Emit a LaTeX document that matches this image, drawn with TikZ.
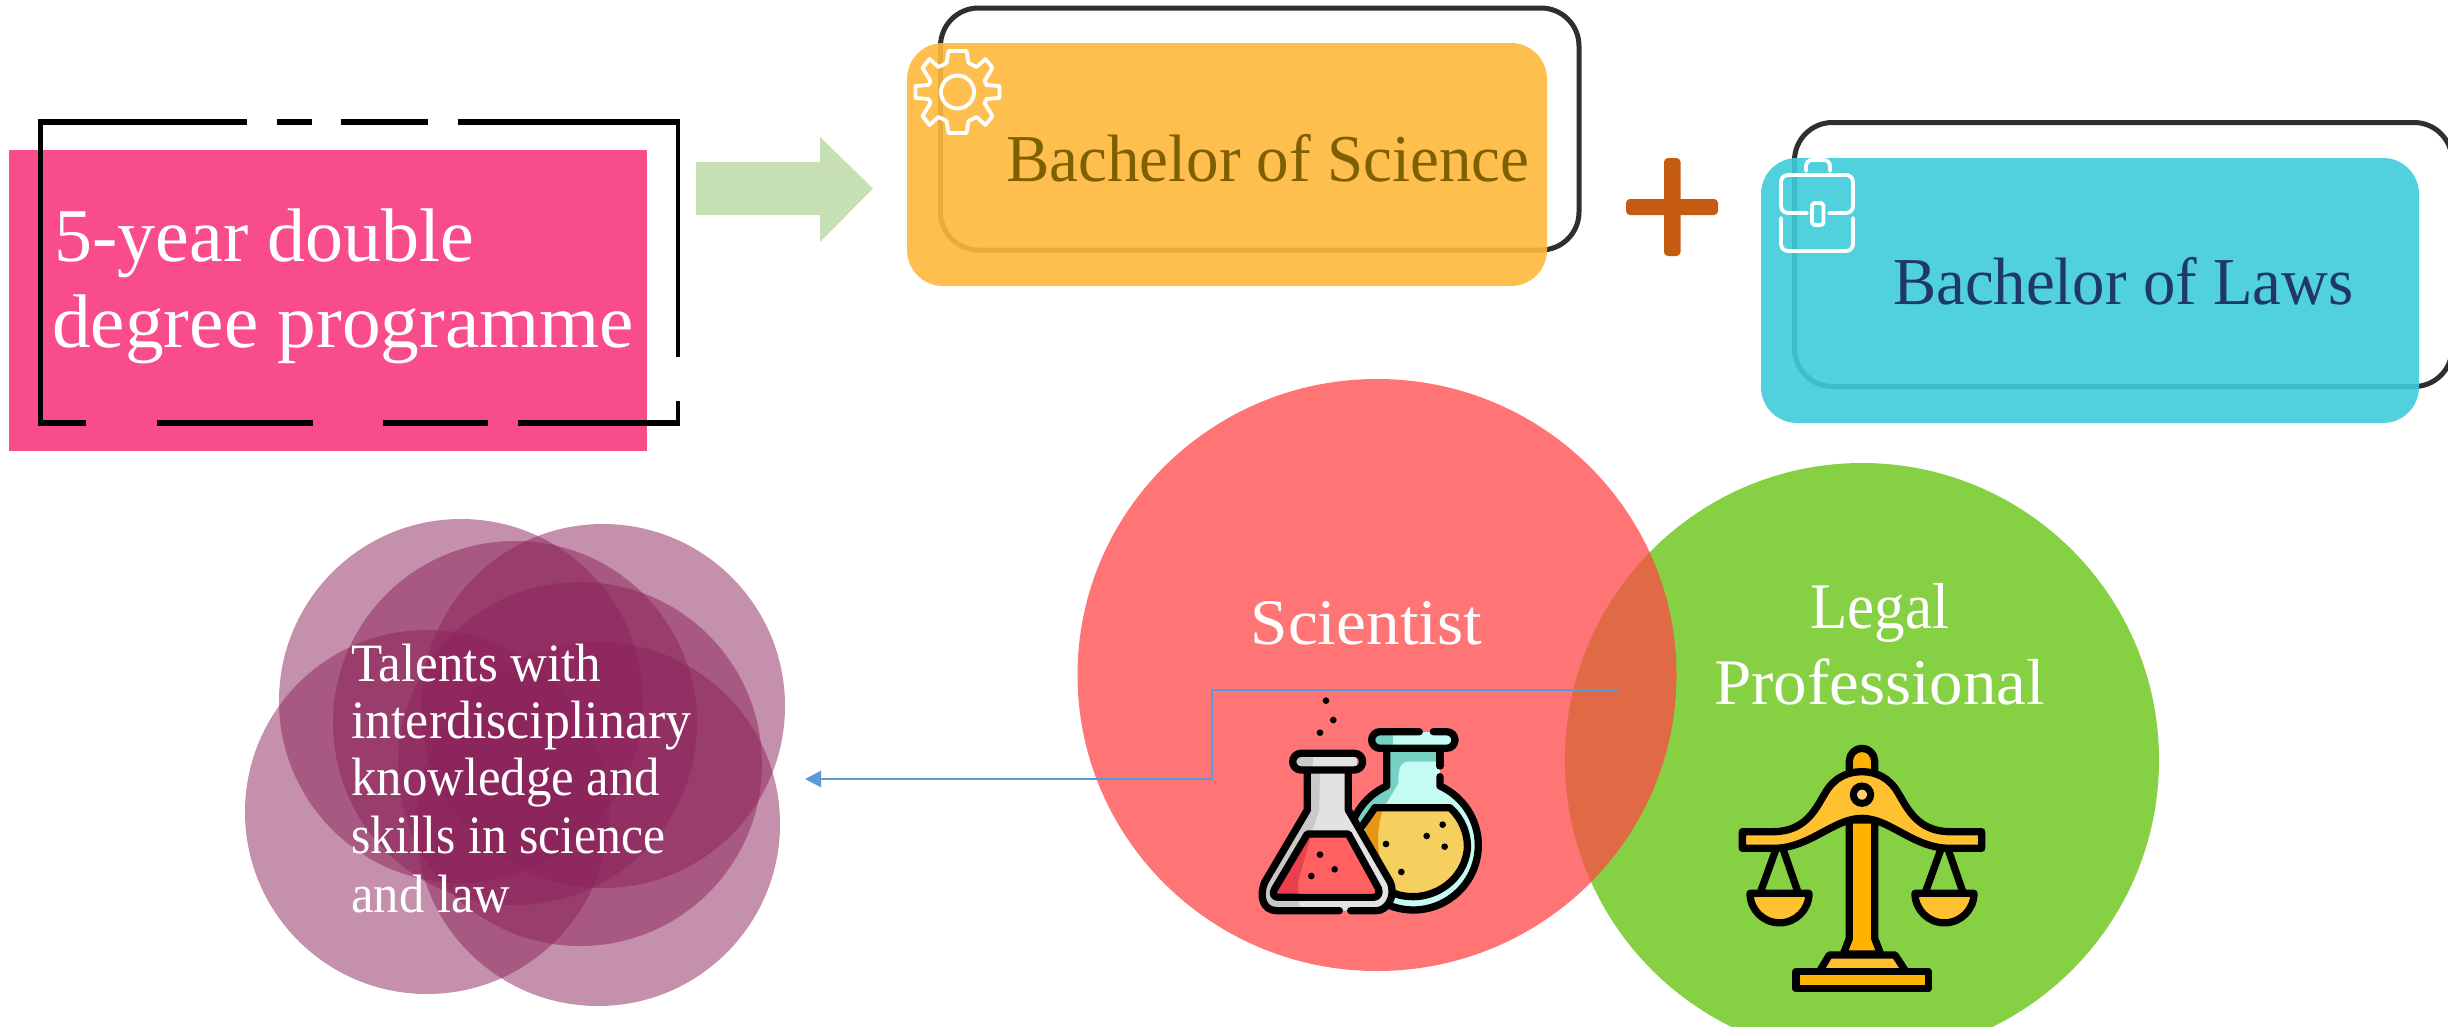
\documentclass[tikz,border=0pt]{standalone}
\usepackage{fontspec}
\usepackage{graphicx}
\setmainfont{Liberation Serif}
\usetikzlibrary{arrows.meta,shapes.geometric}
\definecolor{pinkc}{HTML}{F94C8B}
\definecolor{arrowc}{HTML}{C6E0B4}
\definecolor{orangec}{HTML}{FFB93B}
\definecolor{tealc}{HTML}{3FCCDA}
\definecolor{framec}{HTML}{2F2F2F}
\definecolor{plusc}{HTML}{C55A11}
\definecolor{sciencec}{HTML}{7F6000}
\definecolor{lawsc}{HTML}{1F3864}
\definecolor{redc}{HTML}{FF4747}
\definecolor{greenc}{HTML}{86D044}
\definecolor{purplec}{HTML}{8C235A}
\definecolor{bluec}{HTML}{5B9BD5}
\definecolor{gold}{HTML}{FFB300}
\definecolor{goldl}{HTML}{FFC12F}
\definecolor{aqua}{HTML}{C4FCF4}
\definecolor{aquad}{HTML}{76D1C3}
\definecolor{glass}{HTML}{E2E2E2}
\definecolor{glassd}{HTML}{C9C9C9}
\definecolor{liqy}{HTML}{F5D05F}
\definecolor{liqyd}{HTML}{E89514}
\definecolor{liqr}{HTML}{FF6060}
\definecolor{liqrd}{HTML}{EA3F4C}
\definecolor{eyec}{HTML}{FBD078}
\newcommand\fitw[2]{\resizebox{#1pt}{\height}{#2}}
\tikzset{
  blackdash/.style={line width=6pt,black},
  degree/.style={rectangle,rounded corners=36pt,fill opacity=.9,inner sep=0pt},
  outline/.style={draw=framec,line width=5pt,rounded corners=38pt},
  icon/.style={draw=white,line width=3.8pt,line join=round,line cap=round},
  talent/.style={fill=purplec,fill opacity=.5},
  label/.style={anchor=base west,inner sep=0pt,text=white,font=\fontsize{#1}{#1}\selectfont},
  ink/.style={draw=black,line width=7.3pt,line join=round,line cap=round},
}
\begin{document}
\begin{tikzpicture}[x=1pt,y=-1pt]
\useasboundingbox (0,0) rectangle (2448,1026);
\clip (0,0) rectangle (2448,1026);
\fill[white] (0,0) rectangle (2448,1026);
% pink box
\node[rectangle,fill=pinkc,inner sep=0pt,minimum width=638pt,minimum height=301pt] (pink) at (328,300.5) {};
\draw[blackdash,line width=5pt] (40.5,119) -- (40.5,426);
\draw[blackdash] (38,122) -- (247,122) (277,122) -- (312,122) (341,122) -- (428,122) (458,122) -- (680,122);
\draw[blackdash,line width=4pt] (678,119) -- (678,357) (678,401) -- (678,426);
\draw[blackdash] (38,423) -- (86,423) (157,423) -- (313,423) (383,423) -- (488,423) (518,423) -- (680,423);
\node[label=76] (t1) at (54,261) {\fitw{420}{5-year double}};
\node[label=76] (t2) at (52,347) {\fitw{582}{degree programme}};
% block arrow
\fill[arrowc] (696,162) -- (820,162) -- (820,137) -- (873,188.5) -- (820,242) -- (820,215) -- (696,215) -- cycle;
% Bachelor of Science
\draw[outline] (940.5,8) rectangle (1579,250);
\node[degree,fill=orangec,minimum width=640pt,minimum height=243pt] (bsc) at (1227,164.5) {};
\node[label=67,text=sciencec] (bsct) at (1006,181) {\fitw{523}{Bachelor of Science}};
\begin{scope}[shift={(957.5,92)}]
\draw[icon] (-9,-41) -- (9,-41) -- (11,-29) -- (19,-25) -- (28,-33) -- (35,-24) -- (27,-11) -- (29,-7) -- (42,-6) -- (42,6) -- (29,7) -- (27,11) -- (35,24) -- (28,33) -- (19,25) -- (11,29) -- (9,41) -- (-9,41) -- (-11,29) -- (-19,25) -- (-28,33) -- (-35,24) -- (-27,11) -- (-29,7) -- (-42,6) -- (-42,-6) -- (-29,-7) -- (-27,-11) -- (-35,-24) -- (-28,-33) -- (-19,-25) -- (-11,-29) -- cycle;
\draw[icon] (0,0) circle[radius=16.5];
\end{scope}
% plus
\fill[plusc,rounded corners=4pt] (1664,158) rectangle (1680.5,256);
\fill[plusc,rounded corners=4pt] (1626,199) rectangle (1718,215);
% Bachelor of Laws
\draw[outline] (1794.5,122.5) rectangle (2452,386.5);
\node[degree,fill=tealc,minimum width=658pt,minimum height=265pt] (llb) at (2090,290.5) {};
\node[label=67,text=lawsc] (llbt) at (1893,304) {\fitw{460}{Bachelor of Laws}};
\draw[icon,rounded corners=6pt] (1806,171) -- (1806,160) -- (1830,160) -- (1830,171);
\draw[icon,rounded corners=7pt] (1807,213) -- (1781,213) -- (1781,175) -- (1853,175) -- (1853,213) -- (1829,213);
\draw[icon,rounded corners=7pt] (1781,218) -- (1781,251) -- (1853,251) -- (1853,218);
\draw[icon,rounded corners=3pt] (1812,203) rectangle (1823.5,225);
% venn
\node[circle,fill=greenc,inner sep=0pt,minimum size=594pt] (legal) at (1862,760) {};
\node[ellipse,fill=redc,fill opacity=.75,inner sep=0pt,minimum width=599pt,minimum height=592pt] (sci) at (1377,675) {};
\node[label=65] (st) at (1250.5,644) {\fitw{231.5}{Scientist}};
\node[label=65] (lt1) at (1810,628) {\fitw{139}{Legal}};
\node[label=65] (lt2) at (1714,704) {\fitw{331}{Professional}};
% talents
\fill[talent] (461,701) circle[radius=182];
\fill[talent] (603,706) circle[radius=182];
\fill[talent] (427,812) circle[radius=182];
\fill[talent] (598,824) circle[radius=182];
\fill[talent] (515,723) circle[radius=182];
\fill[talent] (580,764) circle[radius=182];
\coordinate (talentsEdge) at (805,779);
\node[label=54] (tala) at (351,681) {\fitw{250}{Talents with}};
\node[label=54] (talb) at (351,738) {\fitw{340}{interdisciplinary}};
\node[label=54] (talc) at (351,795) {\fitw{309}{knowledge and}};
\node[label=54] (tald) at (351,853) {\fitw{314}{skills in science}};
\node[label=54] (tale) at (351,912) {\fitw{159}{and law}};
% connector
\coordinate (overlap) at (1617,690);
\draw[bluec,line width=2.5pt,-{Triangle[length=16pt,width=16pt]}] (overlap) -- (1212,690) -- (1212,779) -- (talentsEdge);
% flask
\begin{scope}[shift={(1220,680)},x=0.3333pt,y=-0.3333pt]
\fill[black] (318,62) circle[radius=10] (340,120) circle[radius=10] (300,158) circle[radius=10];
% round flask
\fill[aqua] (580,495) circle[radius=195];
\fill[aqua] (500,205) rectangle (660,340);
\fill[aquad] (505,210) -- (655,210) -- (655,245) -- (560,245) .. controls (535,250) and (535,280) .. (535,310) -- (490,385) -- (420,440) -- (395,440) -- (440,350) -- (505,315) -- cycle;
\draw[ink] (500,205) -- (500,318) .. controls (430,350) and (385,420) .. (385,495) arc[start angle=180,end angle=0,radius=195] .. controls (775,420) and (730,350) .. (660,318) -- (660,290);
\draw[ink] (660,258) -- (660,205);
% lip
\fill[aqua] (458,155) rectangle (705,205);
\fill[aquad] (462,160) rectangle (520,200);
\draw[ink] (598,155) -- (480,155) arc[start angle=270,end angle=90,radius=25] -- (680,205) arc[start angle=90,end angle=-90,radius=25] -- (640,155);
% liquid
\fill[liqy] (465,385) -- (690,385) .. controls (725,420) and (745,470) .. (740,510) .. controls (725,600) and (650,650) .. (580,650) .. controls (490,650) and (430,580) .. (425,470) -- cycle;
\fill[liqyd] (465,385) -- (490,385) .. controls (470,440) and (470,500) .. (485,560) -- (450,540) -- (425,470) -- cycle;
\draw[ink] (465,383) -- (690,383) .. controls (725,415) and (745,460) .. (742,510) .. controls (730,600) and (650,650) .. (580,650) .. controls (540,650) and (510,640) .. (490,615);
\draw[ink] (465,383) -- (425,440);
\fill[black] (668,434) circle[radius=10] (620,468) circle[radius=10] (498,492) circle[radius=10] (674,500) circle[radius=10] (544,576) circle[radius=10];
% conical
\fill[glass] (262,265) -- (385,265) -- (385,390) -- (510,605) .. controls (530,650) and (500,692) .. (470,692) -- (170,692) .. controls (130,692) and (115,650) .. (135,605) -- (262,390) -- cycle;
\fill[glassd] (262,265) -- (300,265) -- (298,390) -- (270,470) -- (235,640) -- (240,692) -- (170,692) .. controls (130,692) and (115,650) .. (135,605) -- (262,390) -- cycle;
\draw[ink] (262,265) -- (262,390) -- (135,605) .. controls (115,650) and (130,692) .. (170,692) -- (358,692);
\draw[ink] (392,692) -- (470,692) .. controls (500,692) and (530,650) .. (510,605) -- (385,390) -- (385,265);
\fill[glass] (235,222) rectangle (410,268);
\fill[glassd] (228,226) rectangle (280,264);
\draw[ink] (243,220) arc[start angle=270,end angle=90,radius=25] -- (403,270) arc[start angle=90,end angle=-90,radius=25] -- cycle;
\fill[liqr] (262,462) -- (385,462) -- (470,640) -- (165,640) -- cycle;
\fill[liqrd] (262,462) -- (275,462) -- (235,600) -- (235,650) -- (165,650) -- cycle;
\draw[ink] (262,462) -- (385,462) -- (475,625) .. controls (480,640) and (475,652) .. (460,652) -- (175,652) .. controls (160,652) and (155,640) .. (165,625) -- cycle;
\fill[black] (300,524) circle[radius=10] (344,568) circle[radius=10] (274,588) circle[radius=10];
\end{scope}
% scales
\begin{scope}[shift={(1710,730)},x=0.3333pt,y=-0.3333pt]
\draw[ink,fill=gold] (418,120) -- (418,93) arc[start angle=180,end angle=360,radius=38] -- (494,120);
\draw[ink,fill=gold] (418,270) -- (418,625) -- (400,672) -- (512,672) -- (494,625) -- (494,270) -- cycle;
\draw[ink,fill=goldl] (97,305) -- (190,305) .. controls (290,305) and (320,230) .. (345,190) .. controls (370,145) and (410,125) .. (456,125) .. controls (500,125) and (540,145) .. (565,190) .. controls (590,230) and (620,305) .. (720,305) -- (815,305) -- (815,355) -- (720,355) .. controls (610,355) and (540,265) .. (456,265) .. controls (370,265) and (300,355) .. (190,355) -- (97,355) -- cycle;
\draw[draw=black,line width=7pt,fill=eyec] (456,194) circle[radius=26];
\draw[ink] (197,360) -- (150,490) (220,360) -- (265,490);
\draw[ink] (692,360) -- (645,490) (715,360) -- (760,490);
\draw[ink,fill=goldl] (120,490) -- (297,490) arc[start angle=0,end angle=180,radius=88.5] -- cycle;
\draw[ink,fill=goldl] (615,490) -- (792,490) arc[start angle=0,end angle=180,radius=88.5] -- cycle;
\draw[ink,fill=goldl] (328,725) -- (358,675) -- (555,675) -- (588,725) -- cycle;
\draw[ink,fill=gold] (258,725) rectangle (655,776);
\end{scope}
\end{tikzpicture}
\end{document}
